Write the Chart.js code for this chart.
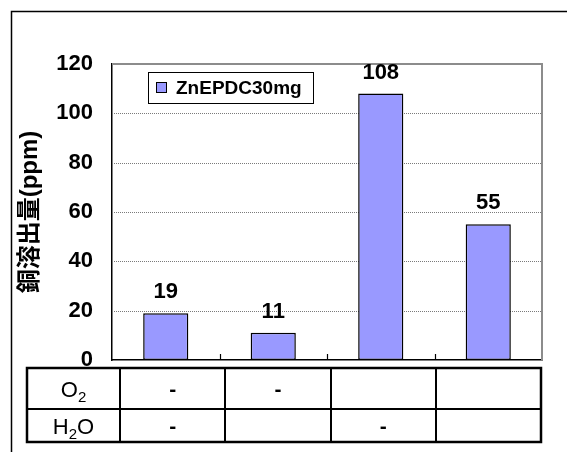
<!DOCTYPE html>
<html>
<head>
<meta charset="utf-8">
<script src="https://cdn.jsdelivr.net/npm/chart.js@4.4.0/dist/chart.umd.min.js"></script>
<style>html,body{margin:0;padding:0;background:#fff}canvas{display:block}</style>
</head>
<body>
<canvas id="c" width="567" height="452"></canvas>
<script>
// Test conditions (one bar per condition)
const categories = ['1', '2', '3', '4'];
const seriesLabel = 'ZnEPDC30mg';
const copperValues = [19, 11, 108, 55];
const yMin = 0, yMax = 120, yStep = 20;
const yTitle = '銅溶出量(ppm)';

// Condition table under the bars
const rowLabels = ['O₂', 'H₂O'];
const o2Row = ['-', '-', '', ''];
const h2oRow = ['-', '', '-', ''];
const tableRows = [o2Row, h2oRow];

const BAR_COLOR = '#9999FF';
const FONT = '"Liberation Sans", Arial, "Noto Sans CJK JP", sans-serif';

// draw text where subscript digits (₀-₉) are rendered smaller and lowered
function drawSubText(ctx, str, cx, cy, size, subSize) {
  const parts = [];
  for (const ch of str) {
    const code = ch.codePointAt(0);
    if (code >= 0x2080 && code <= 0x2089) parts.push({t: String(code - 0x2080), sub: true});
    else parts.push({t: ch, sub: false});
  }
  let total = 0;
  parts.forEach(p => {
    ctx.font = (p.sub ? subSize : size) + 'px ' + FONT;
    p.w = ctx.measureText(p.t).width;
    total += p.w;
  });
  let x = cx - total / 2;
  ctx.textAlign = 'left';
  ctx.textBaseline = 'alphabetic';
  const base = cy + size * 0.36;
  parts.forEach(p => {
    ctx.font = (p.sub ? subSize : size) + 'px ' + FONT;
    ctx.fillText(p.t, x, p.sub ? base + size * 0.22 : base);
    x += p.w;
  });
}

const decorPlugin = {
  id: 'decor',
  beforeDatasetsDraw(chart) {
    const {ctx, chartArea: a, scales: {y}} = chart;
    ctx.save();
    // dotted horizontal gridlines
    ctx.strokeStyle = '#7a7a7a';
    ctx.lineWidth = 1;
    ctx.setLineDash([1, 1]);
    y.ticks.forEach(t => {
      if (t.value <= yMin || t.value >= yMax) return;
      const py = Math.round(y.getPixelForValue(t.value)) + 0.5;
      ctx.beginPath();
      ctx.moveTo(a.left, py);
      ctx.lineTo(a.right, py);
      ctx.stroke();
    });
    ctx.setLineDash([]);
    // top and right frame of the plot area
    ctx.strokeStyle = '#8c8c8c';
    ctx.lineWidth = 2;
    ctx.beginPath();
    ctx.moveTo(a.left, a.top);
    ctx.lineTo(a.right, a.top);
    ctx.lineTo(a.right, a.bottom);
    ctx.stroke();
    ctx.restore();
  },
  afterDatasetsDraw(chart) {
    const {ctx, chartArea: a, scales: {x}} = chart;
    const meta = chart.getDatasetMeta(0);
    ctx.save();
    // value labels above bars
    ctx.fillStyle = '#000';
    ctx.font = 'bold 22px ' + FONT;
    ctx.textAlign = 'center';
    ctx.textBaseline = 'alphabetic';
    meta.data.forEach((bar, i) => {
      ctx.fillText(String(copperValues[i]), bar.x, bar.y - 15);
    });
    // small inward ticks at category boundaries
    ctx.strokeStyle = '#000';
    ctx.lineWidth = 1.2;
    const half = (x.getPixelForValue(1) - x.getPixelForValue(0)) / 2;
    for (let i = 0; i < categories.length - 1; i++) {
      const px = Math.round(x.getPixelForValue(i) + half) + 0.5;
      ctx.beginPath();
      ctx.moveTo(px, a.bottom);
      ctx.lineTo(px, a.bottom - 6);
      ctx.stroke();
    }
    // legend box
    const ds = chart.data.datasets[0];
    const lx = 148, ly = 72, lw = 165, lh = 31;
    ctx.fillStyle = '#fff';
    ctx.fillRect(lx, ly, lw, lh);
    ctx.strokeStyle = '#000';
    ctx.lineWidth = 1;
    ctx.strokeRect(lx + 0.5, ly + 0.5, lw, lh);
    ctx.fillStyle = ds.backgroundColor;
    ctx.fillRect(lx + 8, ly + 10, 11, 11);
    ctx.strokeRect(lx + 8.5, ly + 10.5, 10, 10);
    ctx.fillStyle = '#000';
    ctx.font = 'bold 19px ' + FONT;
    ctx.textAlign = 'left';
    ctx.textBaseline = 'middle';
    ctx.fillText(ds.label, lx + 28, ly + lh / 2 + 1);
    ctx.restore();
  },
  afterDraw(chart) {
    const {ctx} = chart;
    ctx.save();
    // outer frame (left and top edges)
    ctx.strokeStyle = '#000';
    ctx.lineWidth = 1.5;
    ctx.beginPath();
    ctx.moveTo(11.5, chart.height);
    ctx.lineTo(11.5, 11.5);
    ctx.lineTo(chart.width, 11.5);
    ctx.stroke();

    // condition table
    const tl = 27, tr = 541, tt = 368, rowH = [41, 33];
    const labelW = 93;
    const n = categories.length;
    const colW = (tr - tl - labelW) / n;
    const tb = tt + rowH[0] + rowH[1];
    ctx.lineWidth = 2.5;
    ctx.strokeStyle = '#000';
    ctx.strokeRect(tl, tt, tr - tl, tb - tt);
    ctx.lineWidth = 2;
    ctx.beginPath();
    ctx.moveTo(tl, tt + rowH[0]);
    ctx.lineTo(tr, tt + rowH[0]);
    for (let i = 0; i < n; i++) {
      const cx = Math.round(tl + labelW + colW * i);
      ctx.moveTo(cx, tt);
      ctx.lineTo(cx, tb);
    }
    ctx.stroke();
    ctx.fillStyle = '#000';
    let rowTop = tt;
    tableRows.forEach((row, r) => {
      const cy = rowTop + rowH[r] / 2;
      drawSubText(ctx, rowLabels[r], tl + labelW / 2, cy + 1, 22, 15);
      row.forEach((mark, i) => {
        if (!mark) return;
        ctx.font = 'bold 21px ' + FONT;
        ctx.textAlign = 'center';
        ctx.textBaseline = 'middle';
        ctx.fillText(mark, tl + labelW + colW * (i + 0.5), cy + 2);
      });
      rowTop += rowH[r];
    });
    ctx.restore();
  }
};

new Chart(document.getElementById('c'), {
  type: 'bar',
  data: {
    labels: categories,
    datasets: [{
      label: seriesLabel,
      data: copperValues,
      backgroundColor: BAR_COLOR,
      borderColor: '#000',
      borderWidth: 1.5,
      borderSkipped: false,
      barPercentage: 0.42,
      categoryPercentage: 1.0
    }]
  },
  options: {
    responsive: false,
    animation: false,
    devicePixelRatio: 1,
    layout: {padding: {top: 64, right: 25, left: 0, bottom: 0}},
    plugins: {legend: {display: false}, tooltip: {enabled: false}},
    scales: {
      x: {
        ticks: {display: false},
        grid: {display: false},
        border: {display: true, color: '#000', width: 1.5},
        afterFit(s) { s.height = 92; }
      },
      y: {
        min: yMin, max: yMax,
        ticks: {stepSize: yStep, color: '#000', padding: 19, font: {family: FONT, size: 22, weight: 'bold'}},
        grid: {display: false, drawTicks: false},
        border: {display: true, color: '#000', width: 1.5},
        title: {display: true, text: yTitle, color: '#000', padding: {top: 16, bottom: 0}, font: {family: FONT, size: 24, weight: 'bold'}},
        afterFit(s) { s.width = 112; }
      }
    }
  },
  plugins: [decorPlugin]
});
</script>
</body>
</html>
